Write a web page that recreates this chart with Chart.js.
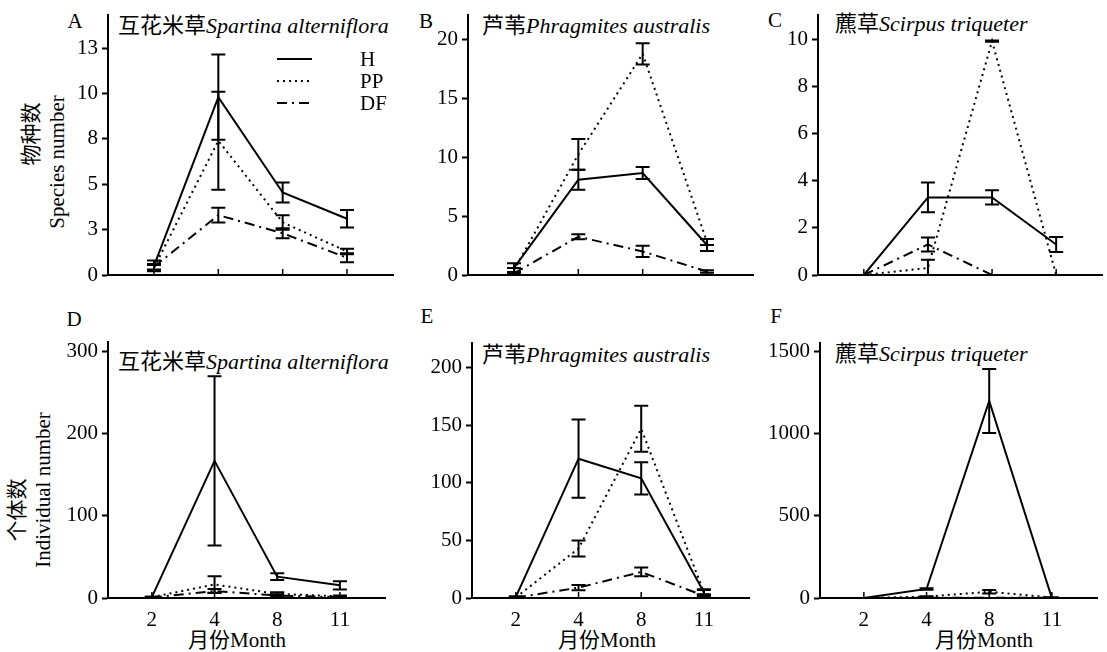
<!DOCTYPE html>
<html>
<head>
<meta charset="utf-8">
<script src="https://cdn.jsdelivr.net/npm/chart.js@4.4.0/dist/chart.umd.min.js"></script>
<style>
  body { margin: 0; width: 1107px; height: 652px; position: relative; overflow: hidden; background: #fff;
         font-family: "Liberation Serif", "Noto Sans CJK SC", serif; color: #000; }
  canvas { position: absolute; }
  .t { position: absolute; font-size: 21px; line-height: 22px; white-space: nowrap; }
  .ti { font-size: 22px; }
  .c { transform: translate(-50%, -50%); }
  .r { transform: translate(-50%, -50%) rotate(-90deg); }
</style>
</head>
<body>

<div class="t c" style="left:75px;top:21px">A</div>
<div class="t c" style="left:426px;top:21px">B</div>
<div class="t c" style="left:775px;top:20px">C</div>
<div class="t c" style="left:74px;top:319px">D</div>
<div class="t c" style="left:427px;top:316px">E</div>
<div class="t c" style="left:776px;top:316px">F</div>

<div class="t ti" style="left:118px;top:15px">互花米草<i>Spartina alterniflora</i></div>
<div class="t ti" style="left:482px;top:15px">芦苇<i>Phragmites australis</i></div>
<div class="t ti" style="left:835px;top:13px">藨草<i>Scirpus triqueter</i></div>
<div class="t ti" style="left:118px;top:351px">互花米草<i>Spartina alterniflora</i></div>
<div class="t ti" style="left:482px;top:344px">芦苇<i>Phragmites australis</i></div>
<div class="t ti" style="left:835px;top:343px">藨草<i>Scirpus triqueter</i></div>

<div class="t r" style="left:31px;top:134px">物种数</div>
<div class="t r" style="left:57px;top:162px">Species number</div>
<div class="t r" style="left:17px;top:510px">个体数</div>
<div class="t r" style="left:43px;top:490px">Individual number</div>

<div class="t c" style="left:237px;top:640px">月份Month</div>
<div class="t c" style="left:607px;top:640px">月份Month</div>
<div class="t c" style="left:984px;top:640px">月份Month</div>

<canvas id="cA"></canvas>
<canvas id="cB"></canvas>
<canvas id="cC"></canvas>
<canvas id="cD"></canvas>
<canvas id="cE"></canvas>
<canvas id="cF"></canvas>

<script>
// === Categories ===
const months = ["2", "4", "8", "11"];
const monthPos = [1, 2, 3, 4];
const seriesNames = ["H", "PP", "DF"];

// === A: Spartina, species number ===
const aH = [0.5, 9.8, 4.55, 3.1];
const aHErr = [0.3, 2.35, 0.55, 0.48];
const aPP = [0.4, 7.4, 2.9, 1.3];
const aPPErr = [0.15, 2.7, 0.4, 0.15];
const aDF = [0.45, 3.3, 2.3, 0.95];
const aDFErr = [0.15, 0.4, 0.28, 0.25];
const aTicks = [0, 2.5, 5, 7.5, 10, 12.5];
const aTickLabels = ["0", "3", "5", "8", "10", "13"];

// === B: Phragmites, species number ===
const bH = [0.6, 8.1, 8.67, 2.55];
const bHErr = [0.4, 0.85, 0.5, 0.5];
const bPP = [0.4, 10.25, 18.8, 2.8];
const bPPErr = [0.2, 1.3, 0.9, 0.25];
const bDF = [0.15, 3.25, 2.0, 0.3];
const bDFErr = [0.1, 0.22, 0.48, 0.1];
const bTicks = [0, 5, 10, 15, 20];

// === C: Scirpus, species number ===
const cH = [0, 3.3, 3.3, 1.3];
const cHErr = [0, 0.63, 0.3, 0.32];
const cPP = [0, 0.3, 9.95, 0];
const cPPErr = [0, 0.35, 0.03, 0];
const cDF = [0, 1.3, 0, 0];
const cDFErr = [0, 0.3, 0, 0];
const cTicks = [0, 2, 4, 6, 8, 10];

// === D: Spartina, individual number ===
const dH = [1, 167, 26, 15.5];
const dHErr = [0.5, 103, 4, 5];
const dPP = [1, 16.5, 5, 2];
const dPPErr = [0.5, 10, 2, 1];
const dDF = [0.5, 8.5, 3, 1];
const dDFErr = [0.3, 2.5, 1.5, 0.5];
const dTicks = [0, 100, 200, 300];

// === E: Phragmites, individual number ===
const eH = [1, 121, 104, 5];
const eHErr = [0.5, 34, 14, 2.5];
const ePP = [0.5, 43, 147, 5];
const ePPErr = [0.3, 7, 20, 2];
const eDF = [0.3, 9, 22.6, 2];
const eDFErr = [0.2, 2.2, 3.8, 1];
const eTicks = [0, 50, 100, 150, 200];

// === F: Scirpus, individual number ===
const fH = [0, 55, 1200, 0];
const fHErr = [0, 5, 195, 0];
const fPP = [0, 8, 38, 3];
const fPPErr = [0, 2, 10, 1];
const fDF = [0, 1, 2, 1];
const fDFErr = [0, 0, 0, 0];
const fTicks = [0, 500, 1000, 1500];

// === Line styles ===
const styles = [
  { borderDash: [] },
  { borderDash: [2, 4] },
  { borderDash: [10, 5, 2, 5] }
];

const FONT = "\"Liberation Serif\", \"Noto Sans CJK SC\", serif";

// === Panel layout: chart area [left, top, right, bottom] in page pixels ===
const panels = [
  { id: "cA", area: [108, 15, 393, 275], xMin: 0.285, xMax: 4.715, yMax: 14.33, ticks: aTicks, labels: aTickLabels,
    values: [aH, aPP, aDF], errors: [aHErr, aPPErr, aDFErr], showX: false, legend: true },
  { id: "cB", area: [468, 15, 753, 275], xMin: 0.285, xMax: 4.715, yMax: 22.1, ticks: bTicks,
    values: [bH, bPP, bDF], errors: [bHErr, bPPErr, bDFErr], showX: false },
  { id: "cC", area: [818, 15, 1102, 275], xMin: 0.285, xMax: 4.715, yMax: 11.06, ticks: cTicks,
    values: [cH, cPP, cDF], errors: [cHErr, cPPErr, cDFErr], showX: false },
  { id: "cD", area: [108, 342, 385, 598], xMin: 0.3, xMax: 4.72, yMax: 311.8, ticks: dTicks,
    values: [dH, dPP, dDF], errors: [dHErr, dPPErr, dDFErr], showX: true },
  { id: "cE", area: [472, 343, 749, 598], xMin: 0.3, xMax: 4.72, yMax: 221.5, ticks: eTicks,
    values: [eH, ePP, eDF], errors: [eHErr, ePPErr, eDFErr], showX: true },
  { id: "cF", area: [820, 343, 1097, 598], xMin: 0.3, xMax: 4.72, yMax: 1553, ticks: fTicks,
    values: [fH, fPP, fDF], errors: [fHErr, fPPErr, fDFErr], showX: true }
];

// === Plugin: error bars, inward x ticks, legend ===
const extrasPlugin = {
  id: "extras",
  afterDatasetsDraw(chart) {
    const ctx = chart.ctx;
    const xs = chart.scales.x, ys = chart.scales.y;
    const area = chart.chartArea;
    ctx.save();
    ctx.strokeStyle = "#000";
    ctx.lineWidth = 2;
    ctx.setLineDash([]);

    // error bars
    chart.data.datasets.forEach(ds => {
      ds.data.forEach((pt, i) => {
        const err = ds.errors[i];
        if (!err) return;
        const px = xs.getPixelForValue(pt.x);
        const top = ys.getPixelForValue(pt.y + err);
        const bot = ys.getPixelForValue(Math.max(pt.y - err, 0));
        ctx.beginPath();
        ctx.moveTo(px, top); ctx.lineTo(px, bot);
        ctx.moveTo(px - 7, top); ctx.lineTo(px + 7, top);
        ctx.moveTo(px - 7, bot); ctx.lineTo(px + 7, bot);
        ctx.stroke();
      });
    });

    // inward x ticks
    ctx.lineWidth = 1.5;
    monthPos.forEach(v => {
      const px = xs.getPixelForValue(v);
      ctx.beginPath();
      ctx.moveTo(px, area.bottom); ctx.lineTo(px, area.bottom - 6);
      ctx.stroke();
    });

    // legend
    if (chart.options.plugins.extras.legend) {
      ctx.font = "21px " + FONT;
      ctx.fillStyle = "#000";
      ctx.textBaseline = "middle";
      chart.data.datasets.forEach((ds, k) => {
        const y = area.top + 44 + k * 22;
        ctx.lineWidth = 2;
        ctx.setLineDash(ds.borderDash);
        ctx.beginPath();
        ctx.moveTo(area.left + 169, y); ctx.lineTo(area.left + 204, y);
        ctx.stroke();
        ctx.fillText(ds.label, area.left + 252, y + 1);
      });
    }
    ctx.restore();
  }
};

function makePanel(p) {
  const [l, t, r, b] = p.area;
  const yW = 60, padTop = 30, padRight = 10;
  const xH = p.showX ? 30 : 0;
  const padBottom = p.showX ? 12 : 20;
  const canvas = document.getElementById(p.id);
  canvas.width = (r - l) + yW + padRight;
  canvas.height = (b - t) + padTop + xH + padBottom;
  canvas.style.left = (l - yW) + "px";
  canvas.style.top = (t - padTop) + "px";

  const datasets = p.values.map((vals, k) => ({
    label: seriesNames[k],
    data: monthPos.map((x, i) => ({ x, y: vals[i] })),
    errors: p.errors[k],
    borderColor: "#000",
    borderWidth: 2,
    borderDash: styles[k].borderDash,
    pointRadius: 0,
    tension: 0,
    fill: false
  }));

  new Chart(canvas.getContext("2d"), {
    type: "line",
    data: { datasets },
    options: {
      responsive: false,
      animation: false,
      layout: { padding: { left: 0, top: padTop, right: padRight, bottom: padBottom } },
      plugins: { legend: { display: false }, tooltip: { enabled: false }, extras: { legend: !!p.legend } },
      scales: {
        x: {
          type: "linear",
          min: p.xMin, max: p.xMax,
          afterBuildTicks: s => { s.ticks = monthPos.map(v => ({ value: v })); },
          afterFit: s => { s.height = xH; },
          grid: { display: false, drawTicks: false },
          border: { display: true, color: "#000", width: 2 },
          ticks: {
            display: p.showX,
            padding: 10,
            color: "#000",
            font: { family: FONT, size: 21 },
            callback: v => months[monthPos.indexOf(v)]
          }
        },
        y: {
          min: 0, max: p.yMax,
          afterBuildTicks: s => { s.ticks = p.ticks.map(v => ({ value: v })); },
          afterFit: s => { s.width = yW; },
          grid: { display: true, drawOnChartArea: false, drawTicks: true, tickLength: 6, tickWidth: 2, color: "#000" },
          border: { display: true, color: "#000", width: 2 },
          ticks: {
            padding: 4,
            color: "#000",
            font: { family: FONT, size: 21 },
            callback: v => p.labels ? p.labels[p.ticks.indexOf(v)] : String(v)
          }
        }
      }
    },
    plugins: [extrasPlugin]
  });
}

panels.forEach(makePanel);
</script>
</body>
</html>
